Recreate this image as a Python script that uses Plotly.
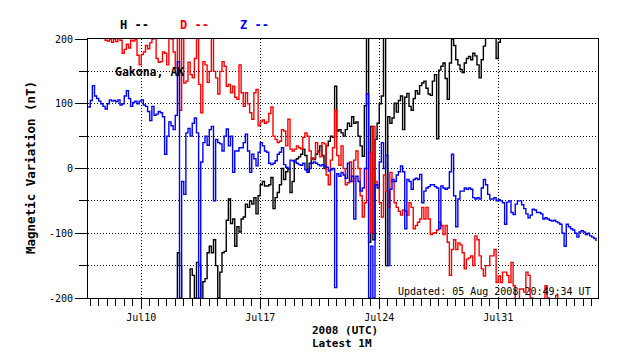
import pandas as pd
import plotly.graph_objects as go

# ---- data: 3-hourly readings (nT), starting 2008-07-06 21:00 UTC ----
start_time = "2008-07-06 21:00"
step = "3h"

h_values = ([-250] * 40 +
    [-250, -230, -130, -150, -230, -250, -250, -220, -155, -165,
     -200, -145, -150, -230, -175, -170, -130, -120, -130, -110,
     -150, -200, -160, -130, -128, -80, -47, -85, -78, -120,
     -90, -98, -78, -75, -55, -60, -50, -55, -45, -70,
     -42, -25, -20, -27, -27, -25, -14, -62, -45, -37,
     -25, 0, -17, -5, 0, -37, -20, 13, 15, 18,
     22, 30, 20, -6, 8, 16, 14, 22, 27, 35,
     20, 0, 35, 42, 50, 48, 127, 58, 60, 55,
     50, 60, 70, 65, 80, 70, 72, 50, 35, 19,
     97, 260, -114, 65, -110, 45, 70, 100, 112, 260,
     -150, 80, 70, 78, 101, 87, 105, 112, 60, 110,
     116, 96, 90, 108, 120, 115, 128, 132, 135, 124,
     115, 113, 135, 145, 46, 152, 158, 163, 139, 107,
     163, 200, 190, 168, 160, 153, 148, 163, 170, 173,
     168, 178, 174, 160, 140, 168, 189, 215, 220, 225,
     215, 205, 170, 195, 230, 230, 230, 230, 230, 230] +
    [230] * 40)

d_values = ([230] * 8 +
    [198, 197,
     200, 195, 200, 196, 202, 198, 178, 184, 192, 186,
     198, 197, 200, 175, 160, 176, 180, 190, 185, 194,
     200, 203, 170, 164, 165, 180, 178, 160, 205, 200,
     180, 155, 220, 90, 230, 132, 135, 164, 145, 140,
     170, 205, 130, 86, 165, 160, 133, 150, 205, 150,
     140, 115, 150, 165, 158, 127, 130, 117, 127, 110,
     107, 160, 117, 96, 117, 100, 86, 76, 117, 122,
     66, 72, 75, 70, 72, 85, 95, 50, 45, 40,
     42, 60, 58, 35, 76, 30, 27, 30, 35, 32,
     30, 48, 55, 50, 27, 14, 16, 40, 25, 18,
     40, 38, -10, -25, 13, 32, 90, 20, 5, 35,
     0, -25, -22, 10, -20, 13, 27, 0, -42, -75,
     -53, 0, 25, -99, 65, -20, -25, -53, -75, -10,
     -35, -60, -6, -20, -53, -60, -66, -72, -64, -66,
     -72, -53, -60, -93, -88, -83, -78, -60, -78, -60,
     -78, -102, -100, -99, -95, -83, -88, -102, -88, -114,
     -165, -125, -110, -125, -115, -118, -130, -155, -140, -138,
     -135, -150, -104, -110, -135, -155, -166, -150, -150, -135,
     -135, -125, -176, -166, -176, -160, -160, -165, -176, -145,
     -181, -210, -205, -186, -186, -191, -160, -165, -200, -220,
     -220, -220, -220, -220, -220, -181, -200, -220, -220, -220,
     -196] + [-220] * 19)

z_values = [
    95, 105, 128, 112, 108, 104, 100, 96, 92, 100,
    106, 104, 105, 103, 106, 98, 100, 112, 120, 108,
    96, 102, 104, 100, 104, 106, 98, 96, 88, 74,
    96, 82, 84, 88, 86, 80, 22, 50, 72, 66,
    60, 82, 165, -200, -20, -40, 55, 62, 50, 70,
    78, 55, -200, 10, 40, 50, 36, 60, 65, -50,
    45, 40, 38, 27, 50, 61, 35, 50, -6, 27,
    27, 32, 32, 40, 53, 27, -6, 22, 15, 4,
    25, 40, 35, 27, 25, 8, 6, 8, 12, 22,
    25, 32, 6, 2, -1, 13, 12, 10, 8, 6,
    5, 8, -2, -6, 0, 8, 10, 8, 6, 4,
    6, 4, 2, -4, -2, 0, -184, -8, -12, -6,
    -10, -15, 8, -20, -12, -78, -12, -20, -35, -30,
    0, 115, -200, -120, -200, -25, -30, 10, 40, 0,
    20, -150, -32, -17, -20, -10, -5, 4, -5, -93,
    -17, -20, -32, -17, -15, -17, -9, -53, -35, -30,
    -28, -25, -25, -28, -30, -93, -27, -30, -32, -30,
    -5, 22, -42, -90, -47, -35, -35, -30, -32, -30,
    -32, -45, -47, -45, -47, -30, -17, -25, -40, -47,
    -47, -45, -50, -48, -50, -53, -86, -52, -50, -68,
    -71, -55, -50, -50, -56, -62, -70, -76, -72, -63,
    -64, -68, -68, -70, -78, -76, -78, -80, -81, -80,
    -82, -84, -86, -100, -120, -86, -90, -93, -95, -100,
    -106, -98, -96, -98, -102, -100, -104, -106, -108, -112]

series_names = ["H", "D", "Z"]
series_colors = ["#000000", "#ff0000", "#0000ff"]
y_tick_values = [-200, -100, 0, 100, 200]
y_tick_labels = ["-200", "-100", "0", "100", "200"]
x_range = ["2008-07-06 20:49:34", "2008-08-05 20:49:34"]
station = "Gakona, AK"
updated_text = "Updated: 05 Aug 2008 20:49:34 UT"

# ---- figure geometry (the page body adds an 8px margin) ----
OFF = 8
W, H = 638 - 2 * OFF, 359 - 2 * OFF
PL, PR, PT, PB = 88, 598, 39, 298          # plot box in screen pixels
ML, MT = PL - OFF, PT - OFF
MR, MB = W - (PR - OFF), H - (PB - OFF)
PW, PH = PR - PL, PB - PT


def px(x):
    return (x - PL) / PW


def py(y):
    return (PB - y) / PH


MONO = "DejaVu Sans Mono"
fig = go.Figure()
for name, vals, col in zip(series_names, [h_values, d_values, z_values], series_colors):
    t = pd.date_range(start_time, periods=len(vals), freq=step)
    fig.add_trace(go.Scatter(x=t, y=vals, mode="lines", name=name,
                             line=dict(color=col, width=1.4, shape="hv"),
                             showlegend=False, hoverinfo="skip"))

DAY = 86400000
fig.update_layout(
    width=W, height=H,
    margin=dict(l=ML, r=MR, t=MT, b=MB, pad=0),
    paper_bgcolor="white", plot_bgcolor="white",
    font=dict(family=MONO, size=10, color="black"),
    xaxis=dict(
        type="date", range=x_range, tickformat="%b%d",
        tick0="2008-07-03", dtick=7 * DAY,
        ticks="outside", ticklen=10, tickcolor="black", tickwidth=1,
        showline=True, linecolor="black", linewidth=1, mirror=True,
        showgrid=True, gridcolor="black", gridwidth=1, griddash="1px,2px",
        zeroline=False, tickfont=dict(family=MONO, size=10),
        minor=dict(tick0="2008-07-03", dtick=DAY / 2, ticks="outside",
                   ticklen=7, tickcolor="black", showgrid=False),
    ),
    yaxis=dict(
        range=[-200, 200], tickvals=y_tick_values, ticktext=y_tick_labels,
        ticks="outside", ticklen=12, tickcolor="black", tickwidth=1,
        showline=True, linecolor="black", linewidth=1, mirror=True,
        showgrid=True, gridcolor="black", gridwidth=1, griddash="1px,2px",
        zeroline=False, tickfont=dict(family=MONO, size=10),
        minor=dict(dtick=50, tick0=0, ticks="outside", ticklen=8,
                   tickcolor="black", showgrid=True, gridcolor="black",
                   griddash="1px,2px", gridwidth=1),
    ),
)

ann = []
legend_x = [118, 178, 238]
for name, col, lx in zip(series_names, series_colors, legend_x):
    ann.append(dict(text=f"<b>{name} --</b>", x=px(lx), y=py(24.5), xref="paper", yref="paper",
                    xanchor="left", yanchor="middle", showarrow=False,
                    font=dict(family=MONO, size=12, color=col)))
ann.append(dict(text=f"<b>{station}</b>", x=px(112.5), y=py(72), xref="paper", yref="paper",
                xanchor="left", yanchor="middle", showarrow=False,
                font=dict(family=MONO, size=11.5, color="black")))
ann.append(dict(text=updated_text, x=px(395.5), y=py(291.5), xref="paper", yref="paper",
                xanchor="left", yanchor="middle", showarrow=False,
                font=dict(family=MONO, size=10, color="black")))
ann.append(dict(text="<b>2008 (UTC)</b>", x=px(310), y=py(330), xref="paper", yref="paper",
                xanchor="left", yanchor="middle", showarrow=False,
                font=dict(family=MONO, size=11, color="black")))
ann.append(dict(text="<b>Latest 1M</b>", x=px(310), y=py(343), xref="paper", yref="paper",
                xanchor="left", yanchor="middle", showarrow=False,
                font=dict(family=MONO, size=11, color="black")))
ann.append(dict(text="<b>Magnetic Variation (nT)</b>", x=px(30), y=py(168), xref="paper",
                yref="paper", xanchor="center", yanchor="middle", showarrow=False,
                textangle=-90, font=dict(family=MONO, size=12.5, color="black")))
fig.update_layout(annotations=ann)

fig.write_html("out.html")
